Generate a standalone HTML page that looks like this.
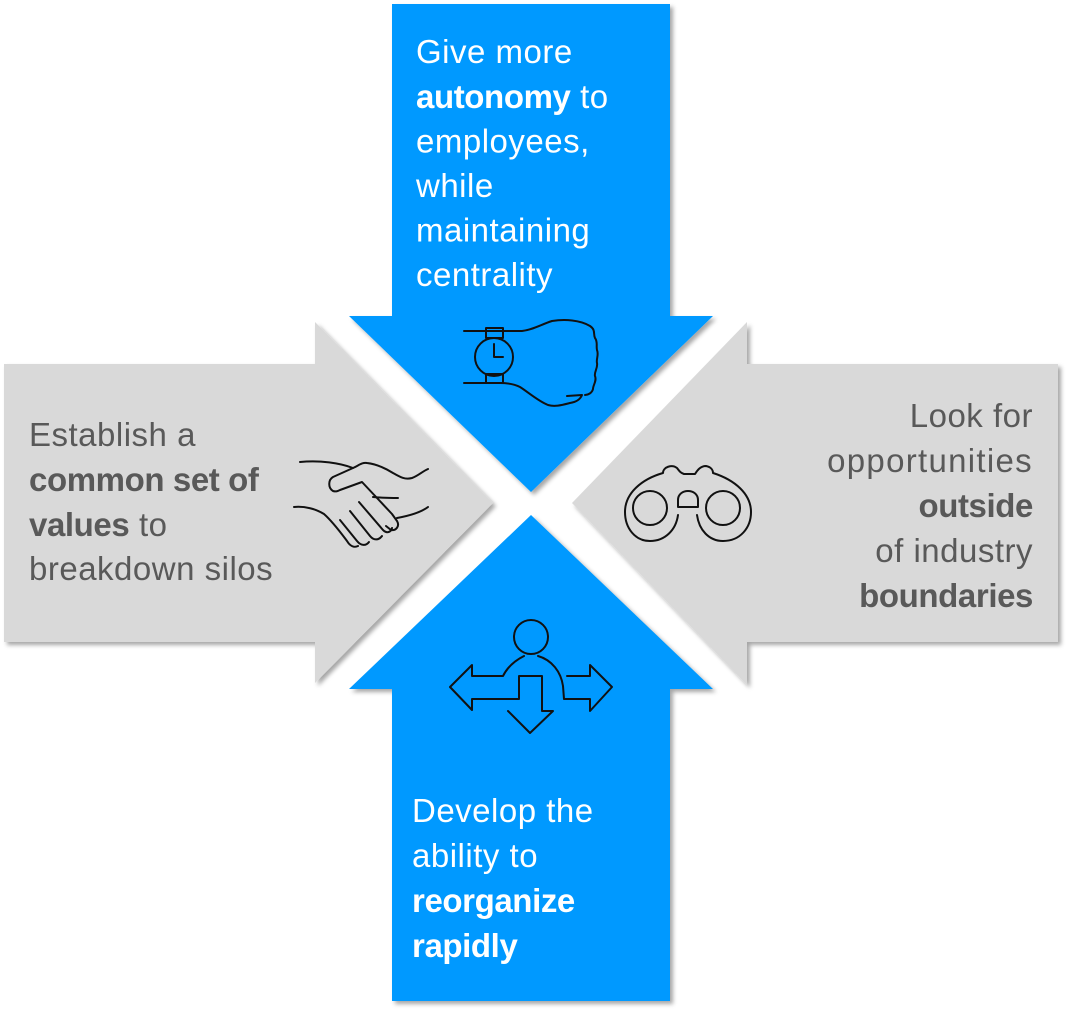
<!DOCTYPE html>
<html>
<head>
<meta charset="utf-8">
<style>
html,body{margin:0;padding:0;background:#fff;}
svg{display:block;}
text{font-family:"Liberation Sans",sans-serif;font-size:33px;letter-spacing:0.5px;}
.b{font-weight:bold;letter-spacing:-0.4px;}
.w{fill:#fff;}
.g{fill:#595959;}
.ic{fill:none;stroke:#111;stroke-width:2;stroke-linejoin:round;stroke-linecap:round;}
</style>
</head>
<body>
<svg width="1079" height="1015" viewBox="0 0 1079 1015" xmlns="http://www.w3.org/2000/svg">
<defs>
<filter id="sh" x="-10%" y="-10%" width="120%" height="120%">
<feDropShadow dx="3" dy="3" stdDeviation="2" flood-color="#000" flood-opacity="0.35"/>
</filter>
</defs>
<!-- arrows -->
<polygon filter="url(#sh)" fill="#0099FF" points="392,4 670,4 670,316 713,316 531,492 349,316 392,316"/>
<polygon filter="url(#sh)" fill="#0099FF" points="392,1001 670,1001 670,689 713,689 531,515 349,689 392,689"/>
<polygon filter="url(#sh)" fill="#D9D9D9" points="4,364 315,364 315,322 493,503 315,683 315,642 4,642"/>
<polygon filter="url(#sh)" fill="#D9D9D9" points="1058,364 747,364 747,322 572,503 747,685 747,642 1058,642"/>

<!-- top text -->
<text class="w" x="416" y="63">Give more</text>
<text class="w" x="416" y="108"><tspan class="b">autonomy</tspan> to</text>
<text class="w" x="416" y="152.5">employees,</text>
<text class="w" x="416" y="197">while</text>
<text class="w" x="416" y="241.5">maintaining</text>
<text class="w" x="416" y="286">centrality</text>

<!-- left text -->
<text class="g" x="29" y="446">Establish a</text>
<text class="g" x="29" y="491"><tspan class="b">common set of</tspan></text>
<text class="g" x="29" y="536"><tspan class="b">values</tspan> to</text>
<text class="g" x="29" y="580">breakdown silos</text>

<!-- right text -->
<text class="g" x="1033" y="427" text-anchor="end">Look for</text>
<text class="g" x="1033" y="472" text-anchor="end" style="letter-spacing:1.3px">opportunities</text>
<text class="g" x="1033" y="517" text-anchor="end"><tspan class="b">outside</tspan></text>
<text class="g" x="1033" y="562" text-anchor="end">of industry</text>
<text class="g" x="1033" y="607" text-anchor="end"><tspan class="b">boundaries</tspan></text>

<!-- bottom text -->
<text class="w" x="412" y="822">Develop the</text>
<text class="w" x="412" y="867">ability to</text>
<text class="w" x="412" y="912"><tspan class="b">reorganize</tspan></text>
<text class="w" x="412" y="957"><tspan class="b">rapidly</tspan></text>

<!-- watch icon -->
<g class="ic">
<path d="M464,331 L522,331 C532,330 540,325 552,321 C565,319 580,320 590,326 C596,330 593,334 595,338 C598,342 596,346 597,350 C599,355 596,359 597,363 C598,368 594,372 595,376 C597,381 593,385 593,389 C592,393 588,395 585,395"/>
<path d="M567,396 L582,395 C580,400 576,402 570,403 C562,405 555,407 548,405 C538,401 528,392 520,387 C514,384 508,383 500,383 L464,383"/>
<circle cx="494" cy="357" r="19"/>
<rect x="486" y="328" width="17" height="10"/>
<rect x="486" y="374" width="17" height="9"/>
<path d="M494,344 L494,357 L503,357"/>
</g>

<!-- handshake icon -->
<g class="ic">
<path d="M300,462 C320,460 340,463 353,468 C358,466 362,462 367,463 C376,464 385,468 393,473 C400,477 405,480 412,478 C418,476 423,471 428,469"/>
<path d="M353,468 L333,477 C328,480 328,488 333,491 C336,492 338,491 340,490 L362,482 L392,514 L397,521 C400,526 396,531 391,530 L386,526"/>
<path d="M373,497 C383,498 390,498 398,498"/>
<path d="M428,507 C420,513 408,516 397,518"/>
<path d="M294,507 C305,506 316,509 324,514 C333,522 341,533 347,541 C350,546 354,548 358,546"/>
<path d="M340,520 L357,541 C361,546 366,546 369,542"/>
<path d="M350,511 L370,536 C374,541 379,540 382,536"/>
<path d="M359,502 L383,530 C387,534 391,532 392,528"/>
</g>

<!-- binoculars icon -->
<g class="ic">
<circle cx="650" cy="508" r="17"/>
<circle cx="723" cy="508" r="17"/>
<path d="M678,515 C676,530 665,541 650,541 C635,541 625,528 625,512 C625,493 642,479 663,473 C663,467 672,464 677,468 C680,472 681,473 684,474 L695,474 C697,471 700,466 706,466 C711,467 713,470 713,473 C735,480 751,494 751,512 C751,528 740,541 723,541 C709,541 699,530 697,515"/>
<path d="M678,507 L678,500 C678,494 683,491 688,491 C693,491 698,494 698,500 L698,507 Z"/>
</g>

<!-- person arrows icon -->
<g class="ic">
<circle cx="531" cy="637" r="17"/>
<path d="M524,656 C516,660 508,666 503,676 L472,676 L472,665 L450,687 L472,710 L472,699 L519,699 L519,676 L542,676 L542,711 L553,711 L530,733 L508,711"/>
<path d="M538,656 C552,660 561,672 563,686 L564,699 L590,699 L590,711 L612,687 L590,665 L590,676 L567,676"/>
</g>
</svg>
</body>
</html>
